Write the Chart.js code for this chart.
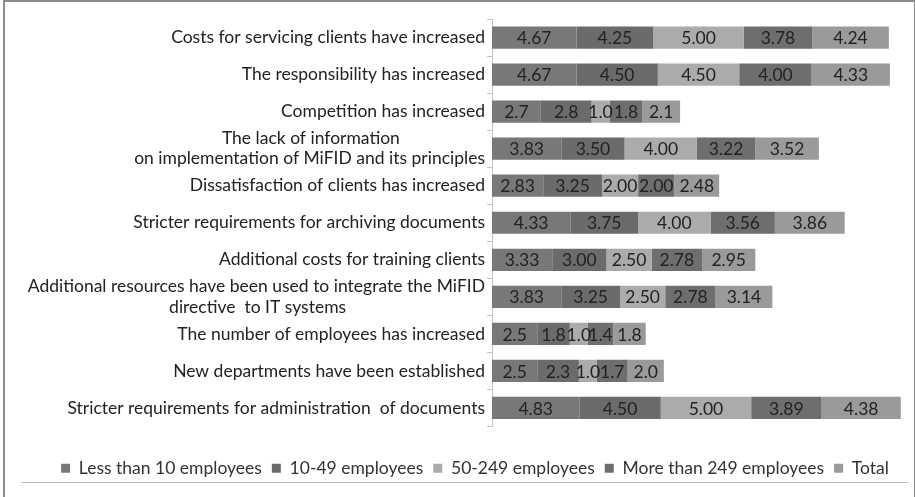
<!DOCTYPE html>
<html>
<head>
<meta charset="utf-8">
<script src="https://cdn.jsdelivr.net/npm/chart.js@4"></script>
<style>
  body { margin: 0; background: #fff; }
  #frame {
    position: absolute; left: 3px; top: 0; width: 912px; height: 497px;
    box-sizing: border-box; border: 2px solid #8c8c8c; border-bottom: none; border-right-width: 1px;
  }
  #wrap { position: absolute; left: 2px; top: 2px; width: 911px; height: 493px; }
  #rule { position: absolute; left: 21px; top: 482px; width: 887px; height: 1px; background: #bdbdbd; }
</style>
</head>
<body>
<div id="frame"></div>
<div id="wrap"><canvas id="myChart"></canvas></div>
<div id="rule"></div>
<script>
const categories = [
  'Costs for servicing clients have increased',
  'The responsibility has increased',
  'Competition has increased',
  ['The lack of information', 'on implementation of MiFID and its principles'],
  'Dissatisfaction of clients has increased',
  'Stricter requirements for archiving documents',
  'Additional costs for training clients',
  ['Additional resources have been used to integrate the MiFID', 'directive  to IT systems'],
  'The number of employees has increased',
  'New departments have been established',
  'Stricter requirements for administration  of documents'
];

const seriesNames = ['Less than 10 employees', '10-49 employees', '50-249 employees', 'More than 249 employees', 'Total'];

const lessThan10 = [4.67, 4.67, 2.7, 3.83, 2.83, 4.33, 3.33, 3.83, 2.5, 2.5, 4.83];
const from10to49 = [4.25, 4.50, 2.8, 3.50, 3.25, 3.75, 3.00, 3.25, 1.8, 2.3, 4.50];
const from50to249 = [5.00, 4.50, 1.0, 4.00, 2.00, 4.00, 2.50, 2.50, 1.0, 1.0, 5.00];
const moreThan249 = [3.78, 4.00, 1.8, 3.22, 2.00, 3.56, 2.78, 2.78, 1.4, 1.7, 3.89];
const total = [4.24, 4.33, 2.1, 3.52, 2.48, 3.86, 2.95, 3.14, 1.8, 2.0, 4.38];

// decimals shown in the value labels of each row
const labelDecimals = [2, 2, 1, 2, 2, 2, 2, 2, 1, 1, 2];

const colors = ['#787878', '#6b6b6b', '#ababab', '#6e6e6e', '#9a9a9a'];

const FONT = 'Lato, "Open Sans", sans-serif';
const TICK_SIZE = 17.5;

// centre the lines of a two line label against each other, like the original
const measureCtx = document.createElement('canvas').getContext('2d');
measureCtx.font = TICK_SIZE + 'px ' + FONT;
function centerLines(label) {
  if (!Array.isArray(label)) return label;
  const widths = label.map(l => measureCtx.measureText(l).width);
  const max = Math.max(...widths);
  const sp = measureCtx.measureText(' ').width;
  return label.map((l, i) => l + ' '.repeat(Math.round((max - widths[i]) / 2 / sp)));
}

const valueLabels = {
  id: 'valueLabels',
  afterDatasetsDraw(chart) {
    const ctx = chart.ctx;
    ctx.save();
    ctx.font = '17.5px ' + FONT;
    ctx.fillStyle = '#222';
    ctx.textAlign = 'center';
    ctx.textBaseline = 'middle';
    chart.data.datasets.forEach((ds, i) => {
      chart.getDatasetMeta(i).data.forEach((bar, j) => {
        const x = (bar.x + bar.base) / 2;
        ctx.fillText(ds.data[j].toFixed(labelDecimals[j]), x, bar.y + 1);
      });
    });
    ctx.restore();
  }
};

// the legend in the original sits a bit right of centre
const legendShift = {
  id: 'legendShift',
  afterLayout(chart) {
    chart.legend.left += 20;
    chart.legend.right += 20;
  }
};

const seriesData = [lessThan10, from10to49, from50to249, moreThan249, total];

new Chart(document.getElementById('myChart'), {
  type: 'bar',
  data: {
    labels: categories,
    datasets: seriesNames.map((name, i) => ({
      label: name,
      data: seriesData[i],
      backgroundColor: colors[i],
      borderWidth: 0,
      barPercentage: 0.6,
      categoryPercentage: 1
    }))
  },
  options: {
    indexAxis: 'y',
    responsive: true,
    maintainAspectRatio: false,
    animation: false,
    layout: { padding: { top: 17, right: 5, left: 0, bottom: 8 } },
    scales: {
      x: {
        stacked: true, min: 0, max: 23,
        // invisible axis, only keeps the gap above the legend
        afterFit(scale) { scale.height = 23; },
        grid: { display: false },
        border: { display: false },
        ticks: { display: false }
      },
      y: {
        stacked: true,
        afterFit(scale) { scale.width = 490; },
        border: { display: true, color: '#c4c4c4' },
        grid: { display: true, drawOnChartArea: false, offset: true, tickLength: 5, color: '#c4c4c4' },
        ticks: {
          autoSkip: false,
          padding: 2,
          color: '#222',
          font: { family: FONT, size: TICK_SIZE, lineHeight: 1.15 },
          callback(value) { return centerLines(this.chart.data.labels[value]); }
        }
      }
    },
    plugins: {
      legend: {
        position: 'bottom',
        labels: {
          boxWidth: 9, boxHeight: 9, padding: 10,
          color: '#333',
          font: { family: FONT, size: 17.5 }
        }
      },
      tooltip: { enabled: false }
    }
  },
  plugins: [valueLabels, legendShift]
});
</script>
</body>
</html>
